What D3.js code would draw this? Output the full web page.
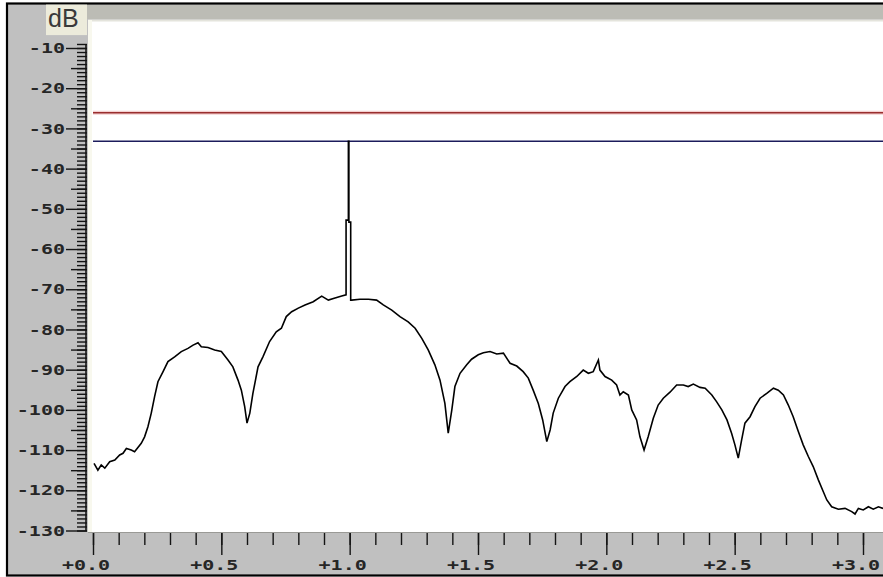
<!DOCTYPE html>
<html><head><meta charset="utf-8">
<script src="https://cdn.jsdelivr.net/npm/d3@7"></script>
<style>html,body{margin:0;padding:0;background:#fff;} svg{display:block}</style>
</head><body>
<svg id="c" width="883" height="577"></svg>
<script>
// ---- data ----
const freq = [0.004,0.019,0.032,0.046,0.065,0.085,0.104,0.117,0.130,0.149,0.162,0.188,0.201,0.214,0.227,0.240,0.253,0.273,0.292,0.318,0.344,0.370,0.390,0.409,0.422,0.448,0.474,0.500,0.526,0.545,0.565,0.578,0.591,0.600,0.611,0.623,0.643,0.662,0.688,0.714,0.734,0.753,0.774,0.800,0.826,0.858,0.891,0.917,0.943,0.969,0.986,
  0.986,0.995,0.995,0.997,0.997,1.004,1.004,
  1.008,1.040,1.073,1.105,1.131,1.164,1.196,1.228,1.255,1.281,1.306,1.332,1.352,1.371,1.384,1.398,1.410,1.430,1.456,1.475,1.501,1.521,1.547,1.573,1.599,1.625,1.651,1.676,1.696,1.715,1.735,1.752,1.768,1.781,1.793,1.813,1.839,1.858,1.885,1.910,1.930,1.949,1.969,1.975,1.995,2.021,2.040,2.053,2.066,2.086,2.099,2.118,2.131,2.147,2.163,2.183,2.202,2.222,2.248,2.274,2.300,2.319,2.339,2.365,2.385,2.411,2.430,2.450,2.470,2.488,2.501,2.514,2.527,2.540,2.560,2.579,2.599,2.625,2.651,2.670,2.690,2.709,2.728,2.748,2.767,2.787,2.806,2.826,2.845,2.859,2.878,2.904,2.930,2.956,2.969,2.982,3.001,3.021,3.040,3.060,3.078];
const level = [-113.3,-115.0,-113.7,-114.5,-112.9,-112.5,-111.2,-110.8,-109.6,-110.0,-110.4,-108.3,-106.7,-104.2,-100.8,-96.7,-93.0,-90.5,-88.0,-86.8,-85.5,-84.7,-83.9,-83.3,-84.3,-84.5,-85.1,-85.5,-87.6,-89.3,-92.6,-95.1,-99.2,-103.3,-100.8,-95.9,-89.3,-86.8,-83.0,-80.6,-79.7,-76.8,-75.6,-74.7,-73.9,-73.1,-71.7,-72.7,-72.2,-71.7,-71.4,
  -52.8,-52.8,-33.2,-33.2,-53.3,-53.3,-72.7,
  -72.7,-72.5,-72.5,-72.7,-73.9,-75.2,-76.8,-78.1,-79.7,-82.2,-85.1,-88.8,-92.6,-98.4,-105.8,-100.0,-94.2,-90.9,-88.8,-87.4,-86.3,-85.8,-85.5,-86.1,-85.9,-88.4,-89.1,-90.5,-92.1,-95.1,-98.4,-102.5,-107.9,-105.0,-100.8,-97.1,-94.2,-93.0,-91.7,-90.1,-90.9,-90.5,-87.6,-90.1,-91.7,-92.6,-93.8,-96.3,-95.5,-96.3,-100.0,-102.5,-106.7,-110.0,-106.7,-102.1,-98.8,-97.1,-95.6,-93.8,-93.8,-94.2,-93.6,-94.4,-94.6,-96.3,-98.0,-100.0,-102.5,-105.8,-108.7,-112.0,-107.5,-103.3,-101.7,-99.2,-97.1,-95.9,-94.6,-95.1,-96.3,-98.8,-101.7,-105.4,-108.7,-111.6,-114.1,-117.4,-120.3,-122.4,-124.1,-124.7,-124.5,-125.3,-125.9,-124.5,-124.9,-124.1,-124.7,-124.1,-124.5];
const yMajorTicks = [-10,-20,-30,-40,-50,-60,-70,-80,-90,-100,-110,-120,-130];
const yTickLabels = ["-10","-20","-30","-40","-50","-60","-70","-80","-90","-100","-110","-120","-130"];
const xMajorTicks = [0,0.5,1,1.5,2,2.5,3];
const xTickLabels = ["+0.0","+0.5","+1.0","+1.5","+2.0","+2.5","+3.0"];
const redLevel = -26.1;
const blueLevel = -33.2;
const unitLabel = "dB";

// ---- drawing ----
const svg = d3.select("#c");
const x = d3.scaleLinear().domain([0,3]).range([93,863]);
const y = d3.scaleLinear().domain([-130,-10]).range([530.5,48]);
const plot = {l:88, t:20, r:883, b:532};
const labelFont = "'DejaVu Sans Mono', monospace";

// panel + frame
svg.append("rect").attr("x",7).attr("y",3.5).attr("width",890).attr("height",572)
  .attr("fill","#c0c0c0").attr("stroke","#000").attr("stroke-width",2.2);
svg.append("rect").attr("x",87).attr("y",5).attr("width",800).attr("height",14).attr("fill","#bcbcb5");
// plot area
svg.append("rect").attr("x",plot.l).attr("y",plot.t).attr("width",plot.r-plot.l).attr("height",plot.b-plot.t)
  .attr("fill","#ffffff");
svg.append("line").attr("x1",plot.l).attr("x2",plot.r).attr("y1",plot.t+0.5).attr("y2",plot.t+0.5)
  .attr("stroke","#e4e4dc").attr("stroke-width",2);
svg.append("rect").attr("x",plot.l).attr("y",plot.t).attr("width",4).attr("height",plot.b-plot.t).attr("fill","#f8f8ee");
svg.append("line").attr("x1",plot.l).attr("x2",plot.r).attr("y1",plot.b+0.5).attr("y2",plot.b+0.5)
  .attr("stroke","#9a9a96").attr("stroke-width",1);

// dB box
svg.append("rect").attr("x",46).attr("y",4.6).attr("width",41).attr("height",30.5).attr("fill","#ecebdb");
svg.append("text").attr("x",48).attr("y",27).text(unitLabel)
  .attr("font-family","'Liberation Sans', Arial, sans-serif").attr("font-size",25).attr("fill","#3a3a3a");

// Y axis ruler
const gy = svg.append("g").attr("transform","translate(87,0)");
function strip(g){ g.select(".domain").remove(); g.selectAll(".tick line").attr("stroke","#141414").attr("stroke-width",1.4); }
gy.append("g").call(d3.axisLeft(y).tickValues(d3.range(-130,-8,1)).tickSize(10).tickFormat("")).call(strip);
gy.append("g").call(d3.axisLeft(y).tickValues(d3.range(-125,-9,10)).tickSize(16).tickFormat("")).call(strip);
gy.append("g").call(d3.axisLeft(y).tickValues(yMajorTicks).tickSize(21).tickFormat("")).call(strip);
svg.append("line").attr("x1",86).attr("x2",86).attr("y1",y(-9)).attr("y2",y(-130)+0.5)
  .attr("stroke","#141414").attr("stroke-width",1.6);
const ylab = svg.append("g").selectAll("g").data(yMajorTicks).join("g")
  .attr("transform",d=>`translate(65,${y(d)+5.2}) scale(1.43,1)`);
ylab.append("text").attr("text-anchor","end").text((d,i)=>yTickLabels[i])
  .attr("font-family",labelFont).attr("font-weight","bold").attr("font-size",14).attr("fill","#262626");

// X axis
const gx = svg.append("g").attr("transform",`translate(0,${plot.b+1})`);
gx.append("g").call(d3.axisBottom(x).tickValues(d3.range(0,31).map(i=>i/10)).tickSize(12).tickFormat("")).call(strip);
gx.append("g").call(d3.axisBottom(x).tickValues(xMajorTicks).tickSize(22).tickFormat("")).call(strip);
const xlab = svg.append("g").selectAll("g").data(xMajorTicks).join("g")
  .attr("transform",d=>`translate(${x(d)-7},569.5) scale(1.43,1)`);
xlab.append("text").attr("text-anchor","middle").text((d,i)=>xTickLabels[i])
  .attr("font-family",labelFont).attr("font-weight","bold").attr("font-size",14).attr("fill","#262626");

// clip
svg.append("clipPath").attr("id","pc").append("rect")
  .attr("x",plot.l).attr("y",plot.t).attr("width",plot.r-plot.l).attr("height",plot.b-plot.t);
const gp = svg.append("g").attr("clip-path","url(#pc)");

// reference lines
gp.append("line").attr("x1",x(0)).attr("x2",plot.r).attr("y1",y(redLevel)).attr("y2",y(redLevel))
  .attr("stroke","#f3d0d0").attr("stroke-width",4);
gp.append("line").attr("x1",x(0)).attr("x2",plot.r).attr("y1",y(redLevel)).attr("y2",y(redLevel))
  .attr("stroke","#9a2e2e").attr("stroke-width",1.5);
gp.append("line").attr("x1",x(0)).attr("x2",plot.r).attr("y1",y(blueLevel)).attr("y2",y(blueLevel))
  .attr("stroke","#1c1c5c").attr("stroke-width",1.6);

// spectrum
const pts = freq.map((f,i)=>[f,level[i]]);
gp.append("path").datum(pts)
  .attr("d",d3.line().x(d=>x(d[0])).y(d=>y(d[1])))
  .attr("fill","none").attr("stroke","#000").attr("stroke-width",1.6).attr("stroke-linejoin","miter");
</script>
</body></html>
